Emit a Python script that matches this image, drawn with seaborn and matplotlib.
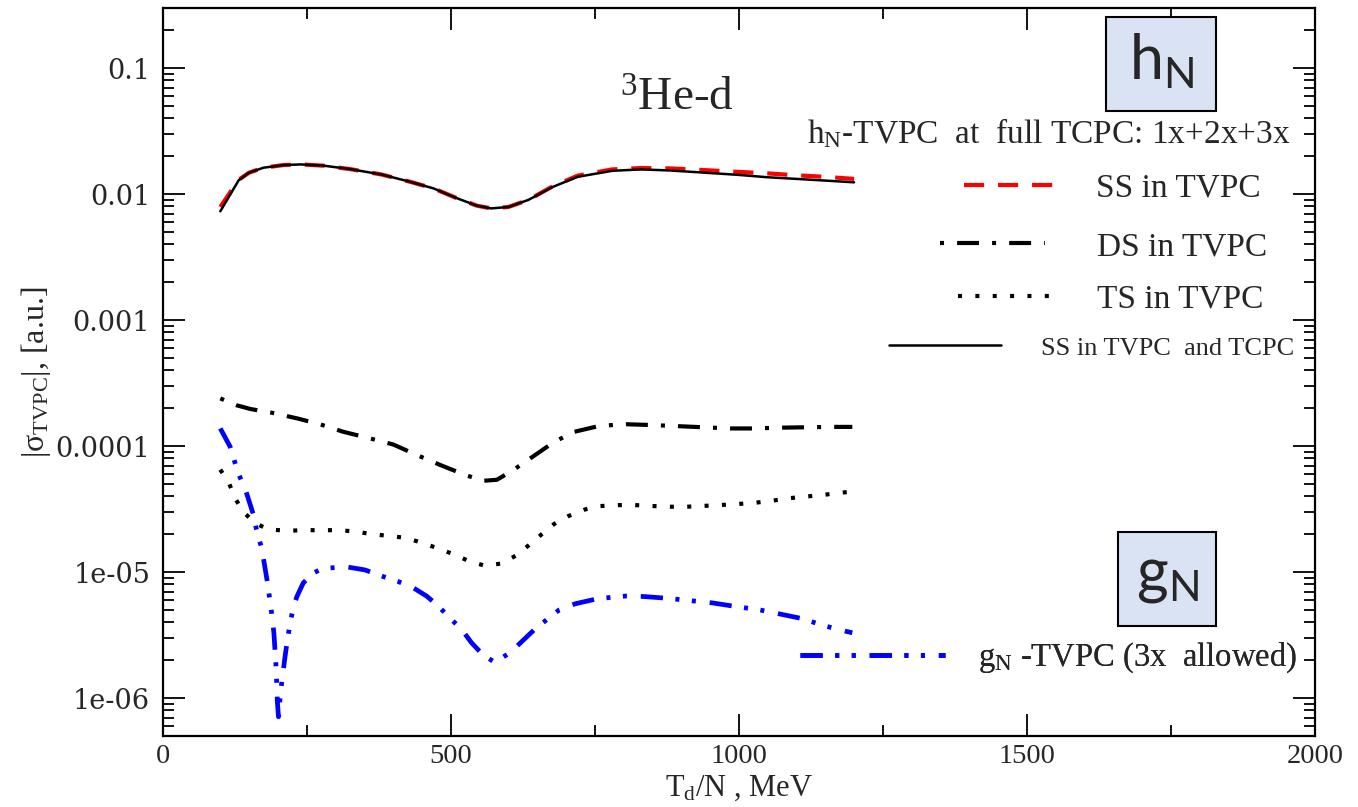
import numpy as np
import pandas as pd
import matplotlib
matplotlib.use("Agg")
import matplotlib.pyplot as plt
import seaborn as sns
from matplotlib.lines import Line2D
from matplotlib.patches import Rectangle
from matplotlib.ticker import LogLocator, NullFormatter, MultipleLocator

# ---------------- data ----------------
t_ss = [100, 132, 150, 175, 210, 240, 280, 325, 380, 430, 470, 510, 545, 570,
        600, 635, 675, 720, 780, 830, 880, 930, 1000, 1050, 1100, 1150, 1200]
ss_tvpc = [0.0079, 0.0130, 0.0148, 0.0162, 0.0170, 0.0172, 0.0168, 0.0158, 0.0143,
           0.0125, 0.0111, 0.0093, 0.0081, 0.0077, 0.0079, 0.0090, 0.0114, 0.0140,
           0.0157, 0.0161, 0.0160, 0.0156, 0.0150, 0.0146, 0.0141, 0.0137, 0.0132]
ss_full = [0.0073, 0.0129, 0.0148, 0.0162, 0.0170, 0.0172, 0.0168, 0.0158, 0.0143,
           0.0125, 0.0111, 0.0093, 0.0081, 0.0077, 0.0079, 0.0090, 0.0113, 0.0137,
           0.0153, 0.0157, 0.0154, 0.0149, 0.0142, 0.0136, 0.0132, 0.0128, 0.0124]

t_ds = [100, 128, 152, 189, 233, 273, 313, 360, 400, 441, 481, 525, 556, 580, 605,
        640, 677, 712, 759, 805, 846, 893, 938, 985, 1025, 1072, 1118, 1160, 1197]
ds_tvpc = [2.39e-4, 2.11e-4, 1.97e-4, 1.84e-4, 1.66e-4, 1.49e-4, 1.30e-4, 1.15e-4,
           1.03e-4, 8.5e-5, 7.1e-5, 5.9e-5, 5.3e-5, 5.4e-5, 6.3e-5, 8.1e-5, 1.06e-4,
           1.29e-4, 1.45e-4, 1.49e-4, 1.47e-4, 1.44e-4, 1.41e-4, 1.38e-4, 1.38e-4,
           1.40e-4, 1.41e-4, 1.42e-4, 1.42e-4]

t_ts = [100, 115, 125, 140, 160, 183, 215, 250, 305, 334, 363, 391, 421, 450, 478,
        504, 532, 560, 588, 613, 636, 658, 679, 704, 733, 759, 791, 820, 852, 881,
        910, 938, 967, 999, 1028, 1057, 1086, 1115, 1147, 1176, 1197]
ts_tvpc = [6.5e-5, 5.1e-5, 3.9e-5, 3.0e-5, 2.46e-5, 2.18e-5, 2.13e-5, 2.15e-5, 2.15e-5,
           2.1e-5, 2.0e-5, 1.94e-5, 1.87e-5, 1.71e-5, 1.54e-5, 1.39e-5, 1.22e-5,
           1.12e-5, 1.17e-5, 1.35e-5, 1.64e-5, 2.0e-5, 2.4e-5, 2.78e-5, 3.14e-5,
           3.34e-5, 3.4e-5, 3.4e-5, 3.34e-5, 3.3e-5, 3.3e-5, 3.35e-5, 3.4e-5, 3.47e-5,
           3.55e-5, 3.68e-5, 3.85e-5, 3.97e-5, 4.1e-5, 4.26e-5, 4.35e-5]

t_g = [100, 117, 131, 143, 157, 164, 172, 181, 188, 193, 197, 199, 201, 205, 208,
       212, 216, 221, 227, 233, 244, 261, 278, 319, 351, 383, 409, 435, 458, 476,
       499, 519, 536, 556, 575, 582, 603, 623, 647, 688, 716, 755, 803, 834, 875,
       921, 953, 990, 1037, 1066, 1107, 1153, 1184, 1197]
g_tvpc = [1.38e-4, 9.9e-5, 6.1e-5, 4.6e-5, 2.9e-5, 2.05e-5, 1.54e-5, 8.7e-6, 5.2e-6,
          3.3e-6, 1.7e-6, 9.4e-7, 7.1e-7, 1.16e-6, 1.48e-6, 2.07e-6, 2.8e-6, 3.9e-6,
          5.3e-6, 6.4e-6, 8.2e-6, 9.8e-6, 1.07e-5, 1.10e-5, 1.04e-5, 9.2e-6, 8.4e-6,
          7.5e-6, 6.45e-6, 5.5e-6, 4.3e-6, 3.5e-6, 2.75e-6, 2.2e-6, 1.94e-6, 2.0e-6,
          2.29e-6, 2.8e-6, 3.56e-6, 5.0e-6, 5.6e-6, 6.15e-6, 6.45e-6, 6.4e-6, 6.2e-6,
          5.9e-6, 5.7e-6, 5.37e-6, 5.0e-6, 4.7e-6, 4.3e-6, 3.7e-6, 3.4e-6, 3.3e-6]

xtick_vals = [0, 500, 1000, 1500, 2000]
xtick_labels = ["0", "500", "1000", "1500", "2000"]
ytick_vals = [1e-6, 1e-5, 1e-4, 1e-3, 1e-2, 1e-1]
ytick_labels = ["1e-06", "1e-05", "0.0001", "0.001", "0.01", "0.1"]

labels = {
    "ss": "SS in TVPC",
    "ds": "DS in TVPC",
    "ts": "TS in TVPC",
    "full": "SS in TVPC  and TCPC",
    "g": "g$_\\mathregular{N}$ -TVPC (3x  allowed)",
}

# ---------------- style ----------------
sns.set_theme(style="ticks")
plt.rcParams["font.family"] = ["Liberation Serif", "DejaVu Serif"]
plt.rcParams["mathtext.default"] = "regular"
plt.rcParams["lines.scale_dashes"] = False

styles = {
    "ss": dict(color="#ff0000", linewidth=3.0, linestyle=(0, (14.5, 10.0))),
    "ds": dict(color="black", linewidth=3.0, linestyle=(0, (2.9, 9.4, 15.8, 9.4))),
    "ts": dict(color="black", linewidth=3.0, linestyle=(0, (2.9, 9.6))),
    "full": dict(color="black", linewidth=1.8, linestyle="-"),
    "g": dict(color="#0000ff", linewidth=3.4, linestyle=(0, (16, 9, 2.9, 9, 2.9, 10))),
}

fig = plt.figure(figsize=(13.58, 8.07), dpi=100)
ax = fig.add_axes([0.1198, 0.0880, 0.8485, 0.9021])

sns.lineplot(x=t_ss, y=ss_tvpc, ax=ax, estimator=None, sort=False, **styles["ss"])
sns.lineplot(x=t_ss, y=ss_full, ax=ax, estimator=None, sort=False, **styles["full"])
sns.lineplot(x=t_ds, y=ds_tvpc, ax=ax, estimator=None, sort=False, **styles["ds"])
sns.lineplot(x=t_ts, y=ts_tvpc, ax=ax, estimator=None, sort=False, **styles["ts"])
sns.lineplot(x=t_g, y=g_tvpc, ax=ax, estimator=None, sort=False, **styles["g"])

ax.set_yscale("log")
ax.set_xlim(0, 2000)
ax.set_ylim(5e-7, 0.3)

ax.set_xticks(xtick_vals, xtick_labels)
ax.xaxis.set_minor_locator(MultipleLocator(250))
ax.set_yticks(ytick_vals, ytick_labels)
ax.yaxis.set_minor_locator(LogLocator(base=10, subs=np.arange(2, 10), numticks=20))
ax.yaxis.set_minor_formatter(NullFormatter())

for sp in ax.spines.values():
    sp.set_linewidth(1.6)
    sp.set_color("black")
    sp.set_visible(True)

ax.tick_params(which="both", direction="in", top=True, right=True, color="black", width=1.3)
ax.tick_params(which="major", length=16)
ax.tick_params(which="minor", length=8)
ax.tick_params(axis="x", which="major", labelsize=20.5, pad=6)
ax.tick_params(axis="y", which="major", labelsize=19.5, pad=9)
for lab in ax.get_yticklabels():
    lab.set_fontfamily("DejaVu Serif")

ax.set_xlabel("T$_\\mathregular{d}$/N , MeV", fontsize=22, labelpad=3)
ax.set_ylabel("|σ$_\\mathregular{TVPC}$|, [a.u.]", fontsize=23, labelpad=2)
ax.grid(False)

# title-like annotation
ax.text(0.446, 0.874, "$^\\mathregular{3}$He-d", transform=ax.transAxes,
        fontsize=34, ha="center", va="center")

# header of legend
ax.text(0.979, 0.828, "h$_\\mathregular{N}$-TVPC  at  full TCPC: 1x+2x+3x",
        transform=ax.transAxes, fontsize=24, ha="right", va="center")

# legend entries (one small legend per entry, positioned like the reference)
entries = [
    ("ss", 0.695, 0.752, 94, 38, 24),
    ("ds", 0.675, 0.672, 105, 52, 24),
    ("ts", 0.690, 0.600, 92, 47, 24),
    ("full", 0.630, 0.533, 112, 40, 19),
    ("g", 0.553, 0.107, 145, 33, 23.5),
]
for key, x0, y0, len_px, gap_px, fsz in entries:
    fpx = fsz * 100 / 72.0
    h = Line2D([], [], **styles[key])
    lg = ax.legend(handles=[h], labels=[labels[key]], loc="center left",
                   bbox_to_anchor=(x0, y0), bbox_transform=ax.transAxes,
                   frameon=False, fontsize=fsz, handlelength=len_px / fpx,
                   handletextpad=gap_px / fpx, borderpad=0, borderaxespad=0)
    ax.add_artist(lg)

# boxed labels hN and gN
for (bx, by, bw, bh, txt) in [(0.8190, 0.859, 0.0955, 0.128, "h$_\\mathregular{N}$"),
                              (0.829, 0.151, 0.0855, 0.129, "g$_\\mathregular{N}$")]:
    ax.add_patch(Rectangle((bx, by), bw, bh, transform=ax.transAxes,
                           facecolor="#dae3f3", edgecolor="black", linewidth=1.5,
                           zorder=5))
    ax.text(bx + bw / 2, by + bh / 2 + 0.004, txt, transform=ax.transAxes,
            fontsize=44, fontfamily="Lato", ha="center", va="center", zorder=6)

fig.savefig("out.png", dpi=100)
